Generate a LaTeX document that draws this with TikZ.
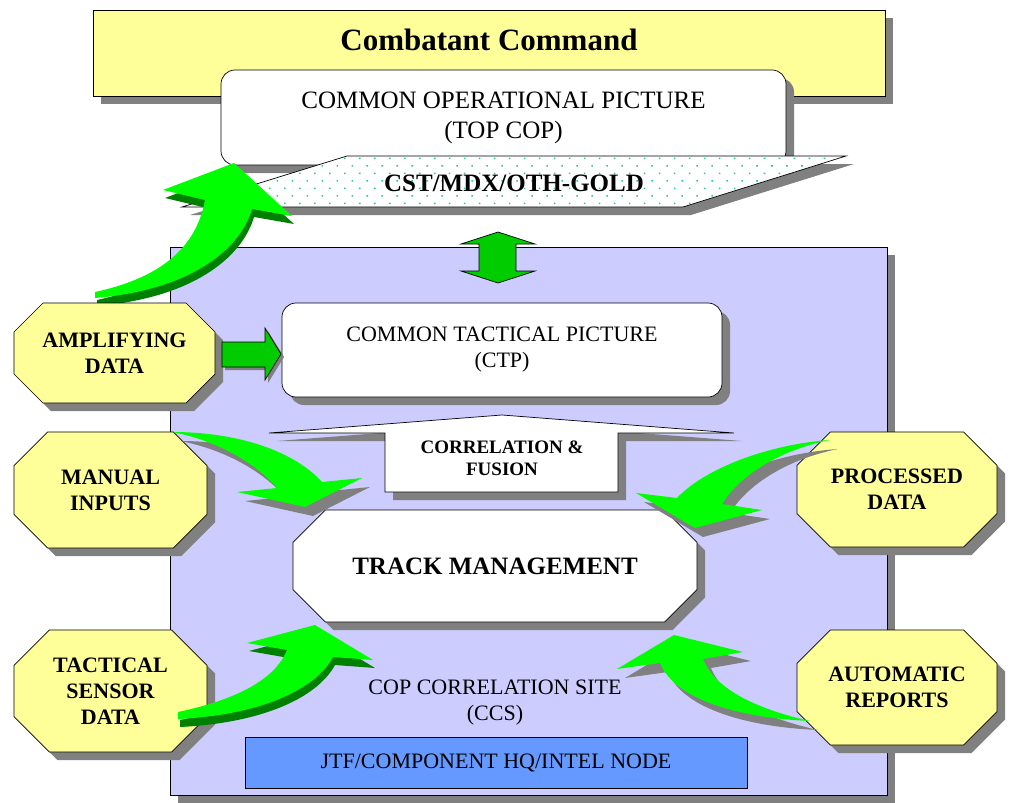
\documentclass[tikz,border=0pt]{standalone}
\usepackage{fontspec}
\setmainfont{Liberation Serif}
\usetikzlibrary{shadows,patterns.meta}
\definecolor{paleyellow}{HTML}{FFFF99}
\definecolor{lavender}{HTML}{CCCCFF}
\definecolor{brightgreen}{HTML}{00FF00}
\definecolor{darkgreen}{HTML}{008000}
\definecolor{midgreen}{HTML}{00CC00}
\definecolor{shade}{HTML}{808080}
\definecolor{jtfblue}{HTML}{6699FF}
\definecolor{dotcyan}{HTML}{1FC8A8}
% octagon: name, fill, left, top, right, bottom, text
\newcommand{\octo}[7]{%
  \pgfmathsetmacro{\octcut}{0.29*(#6-#4)}
  \draw[sh,fill=#2] (#3+\octcut,#4) -- (#5-\octcut,#4) -- (#5,#4+\octcut) -- (#5,#6-\octcut)
    -- (#5-\octcut,#6) -- (#3+\octcut,#6) -- (#3,#6-\octcut) -- (#3,#4+\octcut) -- cycle;
  \node[lbl] (#1) at ({(#3+#5)/2},{(#4+#6)/2}) {#7};}

\begin{document}
\begin{tikzpicture}[x=1pt,y=-1pt,line width=0.7pt,
    sh/.style={drop shadow={shadow xshift=8pt,shadow yshift=-8pt,fill=shade,opacity=1}},
    ash/.style={drop shadow={shadow xshift=8pt,shadow yshift=-9pt,fill=shade,opacity=1}},
    gsh/.style={drop shadow={shadow xshift=2pt,shadow yshift=-8pt,fill=darkgreen,opacity=1}},
    lbl/.style={font=\fontsize{22}{26}\selectfont\bfseries,align=center},
    txt/.style={font=\fontsize{22}{26}\selectfont,align=center}]
  \useasboundingbox (0,0) rectangle (1013,803);

  % top level
  \draw[sh,fill=paleyellow] (93,10) rectangle (885,96);
  \node[font=\fontsize{31}{36}\selectfont\bfseries] (cc) at (489,40) {Combatant Command};
  \node[sh,draw,fill=white,rounded corners=14pt,minimum width=565pt,minimum height=95pt,
    align=center,font=\fontsize{25}{30}\selectfont] (cop) at (503.5,117.5) {COMMON OPERATIONAL PICTURE\\(TOP COP)};
  \draw[sh,fill=white,postaction={pattern={Dots[distance=10.6pt,angle=45,radius=1.1pt]},pattern color=dotcyan}]
    (347,156) -- (846,156) -- (683,207) -- (182,207) -- cycle;
  \node[font=\fontsize{25}{30}\selectfont\bfseries] (cst) at (514,183) {CST/MDX/OTH-GOLD};

  % correlation site
  \node[sh,draw,fill=lavender,minimum width=717pt,minimum height=548pt] (ccs) at (528.5,521) {};
  \fill[gsh,brightgreen] (95,292) .. controls (150,280) and (195,255) .. (205,200) -- (163,190) -- (234,163)
    -- (292,216) -- (252,209) .. controls (240,250) and (190,290) .. (95,298) -- cycle;
  \draw[fill=midgreen] (498,232) -- (535,244) -- (516,244) -- (516,271) -- (535,271) -- (498,283)
    -- (461,271) -- (479,271) -- (479,244) -- (461,244) -- cycle;

  \node[sh,draw,fill=white,rounded corners=14pt,minimum width=440pt,minimum height=94pt,txt] (ctp) at (502,350) {COMMON TACTICAL PICTURE\\(CTP)};
  \octo{amp}{paleyellow}{14}{303}{215}{403}{AMPLIFYING\\DATA}
  \draw[fill=midgreen,drop shadow={shadow xshift=3pt,shadow yshift=-3pt,fill=shade,opacity=1}]
    (222,342) -- (265,342) -- (265,328) -- (281,354) -- (265,380) -- (265,367) -- (222,367) -- cycle;

  \draw[sh,fill=white] (269,433) -- (385,433) -- (385,492) -- (618,492) -- (618,433) -- (734,433) -- (502,415) -- cycle;
  \node[font=\fontsize{19}{22}\selectfont\bfseries,align=center] (corr) at (502,458) {CORRELATION \&\\FUSION};
  \octo{tm}{white}{293}{510}{697}{622}{\fontsize{25}{30}\selectfont TRACK MANAGEMENT}

  \octo{man}{paleyellow}{14}{432}{207}{548}{MANUAL\\INPUTS}
  \octo{proc}{paleyellow}{797}{432}{997}{547}{PROCESSED\\DATA}
  \octo{tac}{paleyellow}{14}{630}{207}{752}{TACTICAL\\SENSOR\\DATA}
  \octo{auto}{paleyellow}{797}{630}{997}{745}{AUTOMATIC\\REPORTS}

  \node[txt] (ccstext) at (495,703) {COP CORRELATION SITE\\(CCS)};
  \node[draw,fill=jtfblue,minimum width=502pt,minimum height=51pt,txt] (jtf) at (496,763) {JTF/COMPONENT HQ/INTEL NODE};

  % inputs into track management
  \fill[ash,brightgreen] (172,432) .. controls (240,432) and (295,452) .. (322,482) -- (362,478) -- (305,507)
    -- (237,492) -- (277,488) .. controls (255,462) and (215,440) .. (172,432) -- cycle;
  \fill[ash,brightgreen] (830,440) .. controls (770,444) and (705,468) .. (677,498) -- (636,493) -- (695,528)
    -- (762,510) -- (722,504) .. controls (740,475) and (780,450) .. (830,440) -- cycle;
  \fill[gsh,brightgreen] (178,712) .. controls (235,700) and (275,680) .. (287,650) -- (247,643) -- (315,625)
    -- (373,660) -- (333,657) .. controls (315,690) and (260,715) .. (178,719) -- cycle;
  \fill[ash,brightgreen] (810,721) .. controls (760,710) and (715,690) .. (703,659) -- (743,652) -- (674,635)
    -- (617,669) -- (660,663) .. controls (675,700) and (740,718) .. (810,721) -- cycle;
\end{tikzpicture}
\end{document}
